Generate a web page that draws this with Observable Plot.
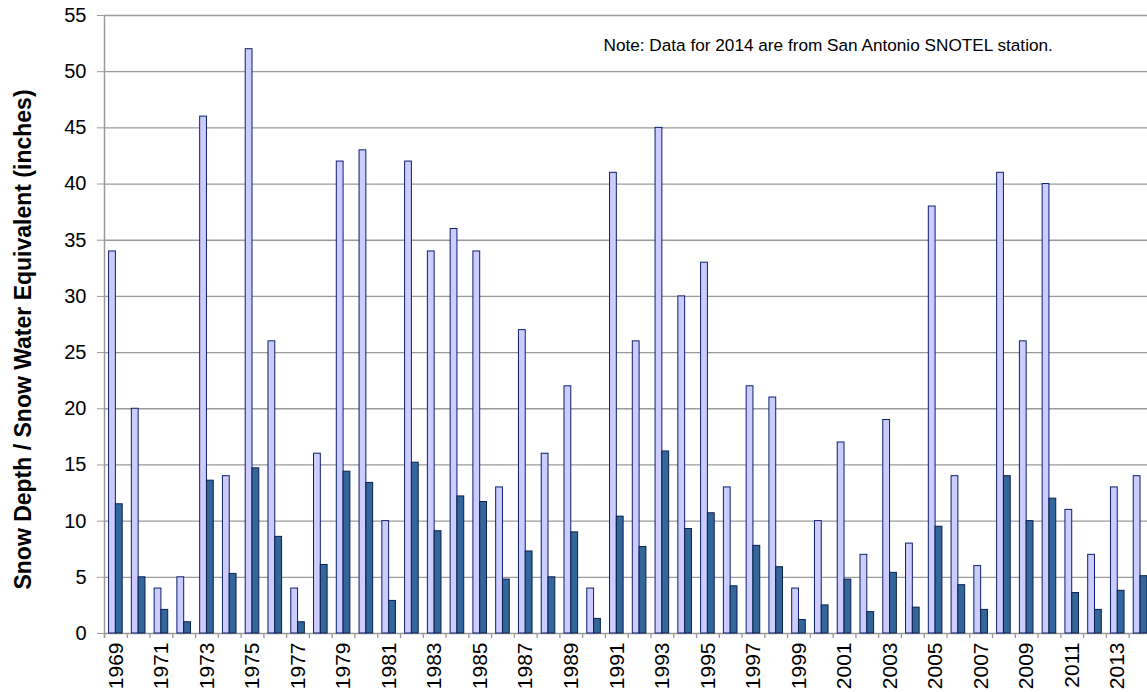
<!DOCTYPE html>
<html>
<head>
<meta charset="utf-8">
<script src="https://cdn.jsdelivr.net/npm/d3@7"></script>
<script src="https://cdn.jsdelivr.net/npm/@observablehq/plot@0.6"></script>
<style>
  html, body { margin: 0; padding: 0; background: #fff; overflow: hidden; }
  #chart svg { display: block; }
</style>
</head>
<body>
<div id="chart"></div>
<script>
const years = [1969,1970,1971,1972,1973,1974,1975,1976,1977,1978,1979,1980,1981,1982,1983,1984,1985,1986,1987,1988,1989,1990,1991,1992,1993,1994,1995,1996,1997,1998,1999,2000,2001,2002,2003,2004,2005,2006,2007,2008,2009,2010,2011,2012,2013,2014];
const snowDepth = [34,20,4,5,46,14,52,26,4,16,42,43,10,42,34,36,34,13,27,16,22,4,41,26,45,30,33,13,22,21,4,10,17,7,19,8,38,14,6,41,26,40,11,7,13,14];
const snowWater = [11.5,5.0,2.1,1.0,13.6,5.3,14.7,8.6,1.0,6.1,14.4,13.4,2.9,15.2,9.1,12.2,11.7,4.8,7.3,5.0,9.0,1.3,10.4,7.7,16.2,9.3,10.7,4.2,7.8,5.9,1.2,2.5,4.8,1.9,5.4,2.3,9.5,4.3,2.1,14.0,10.0,12.0,3.6,2.1,3.8,5.1];
const yTicks = [0,5,10,15,20,25,30,35,40,45,50,55];
const labelYears = years.filter(y => y % 2 === 1).map(String);
const yTitle = "Snow Depth / Snow Water Equivalent (inches)";
const note = "Note: Data for 2014 are from San Antonio SNOTEL station.";

const data = years.map((y, i) => ({year: String(y), depth: snowDepth[i], swe: snowWater[i]}));

const W = 1147, H = 692;
const mLeft = 104, mTop = 15, mBottom = 59;
const bw = 22.77;
const rightEdge = mLeft + bw * years.length;
const barW = 6.8;
const pad = (bw - 2 * barW) / 2;
const grid = "#9a9a9a";
const font = "Arial, 'Liberation Sans', sans-serif";

const chart = Plot.plot({
  width: W,
  height: H,
  marginLeft: mLeft,
  marginRight: 0,
  marginTop: mTop,
  marginBottom: mBottom,
  style: {fontFamily: font, fontSize: "17px", color: "#000", background: "#fff", overflow: "hidden"},
  x: {type: "band", domain: years.map(String), range: [mLeft, rightEdge], paddingInner: 0, paddingOuter: 0},
  y: {domain: [0, 55]},
  marks: [
    Plot.ruleY(yTicks.filter(d => d > 0), {y: d => d, stroke: grid, strokeWidth: 1.3}),
    Plot.ruleY([0], {stroke: grid, strokeWidth: 1.3}),
    Plot.barY(data, {x: "year", y: "depth", fill: "#ccccff", stroke: "#0a1f6e", strokeWidth: 1, insetLeft: pad, insetRight: pad + barW}),
    Plot.barY(data, {x: "year", y: "swe", fill: "#336699", stroke: "#0a1f4e", strokeWidth: 1, insetLeft: pad + barW, insetRight: pad}),
    Plot.ruleX(years.map(String), {x: d => d, y1: 0, y2: -0.45, dx: -bw / 2, stroke: grid, strokeWidth: 1.3, clip: false}),
    Plot.ruleX([years[0]].map(String), {x: d => d, y1: -0.45, y2: 55, dx: -bw / 2, stroke: grid, strokeWidth: 1.5}),
    Plot.axisY({ticks: yTicks, tickSize: 7, tickPadding: 11, stroke: grid, label: null, fontSize: 20, fill: "#000"}),
    Plot.axisX({ticks: labelYears, tickSize: 0, tickPadding: 9, tickRotate: -90, label: null, fontSize: 21, fill: "#000"}),
    Plot.text([yTitle], {frameAnchor: "left", textAnchor: "middle", rotate: -90, dx: -81, dy: 15, fontWeight: "bold", fontSize: 23, fill: "#000", text: d => d}),
    Plot.text([note], {frameAnchor: "top-left", textAnchor: "start", lineAnchor: "middle", dx: 603 - mLeft, dy: 30, fontSize: 17.2, fill: "#000", text: d => d})
  ]
});
document.getElementById("chart").appendChild(chart);
</script>
</body>
</html>
